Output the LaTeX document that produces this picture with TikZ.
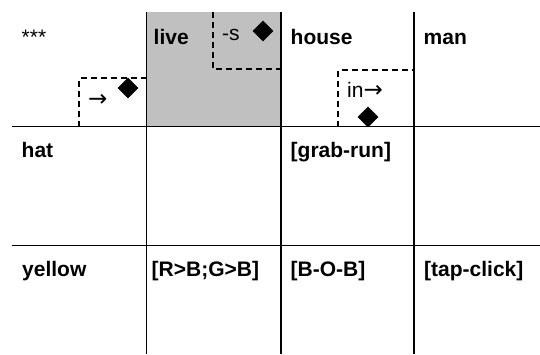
\documentclass[tikz,border=0pt]{standalone}
\usepackage{fontspec}
\setmainfont{Liberation Sans}
\newfontfamily\arrowfont{DejaVu Sans}
\usetikzlibrary{shapes.geometric}
\definecolor{cellgrey}{HTML}{C0C0C0}
\newcommand{\rarr}{{\arrowfont\fontsize{23}{24}\selectfont →}}
\begin{document}
\begin{tikzpicture}[x=1pt,y=-1pt,
  lbl/.style={font=\fontsize{21}{24}\selectfont\bfseries, anchor=base west, inner sep=0pt},
  plain/.style={font=\fontsize{21}{24}\selectfont, anchor=base west, inner sep=0pt},
  gridline/.style={line width=1.6pt},
  dsh/.style={line width=1.2pt, dash pattern=on 6pt off 4pt},
  dmd/.style={diamond, fill=black, inner sep=0pt, minimum width=21pt, minimum height=21pt, aspect=1}]
\useasboundingbox (0,0) rectangle (540,354);
% shaded cell
\fill[cellgrey] (146.5,12) rectangle (281,126.5);
% dashed boxes
\draw[dsh] (79,126.5) -- (79,78) -- (146.5,78);
\draw[dsh] (213,12) -- (213,69) -- (281,69);
\draw[dsh] (338,126.5) -- (338,70) -- (414,70);
% grid lines
\draw[gridline] (12,126.5) -- (540,126.5);
\draw[gridline] (12,245.5) -- (540,245.5);
\draw[gridline] (146.5,12) -- (146.5,354);
\draw[gridline] (281,12) -- (281,354);
\draw[gridline] (414,12) -- (414,354);
% diamonds
\node[dmd] (d1) at (128,88) {};
\node[dmd] (d2) at (263,31) {};
\node[dmd] (d3) at (368,117) {};
% small texts
\node[plain] (stars) at (21.5,44) {***};
\node[plain] (arr1) at (88,106) {\rarr};
\node[plain] (suf) at (222,40) {-s};
\node[plain] (inarr) at (347,97) {in\rarr};
% labels
\node[lbl] (live) at (153.5,44) {live};
\node[lbl] (house) at (290.5,44) {house};
\node[lbl] (man) at (423.5,44) {man};
\node[lbl] (hat) at (21.5,157) {hat};
\node[lbl] (grab) at (290.5,157) {[grab-run]};
\node[lbl] (yellow) at (22,276) {yellow};
\node[lbl] (rbgb) at (151.5,276) {[R>B;G>B]};
\node[lbl] (bob) at (290.5,276) {[B-O-B]};
\node[lbl] (tap) at (424,276) {[tap-click]};
\end{tikzpicture}
\end{document}
